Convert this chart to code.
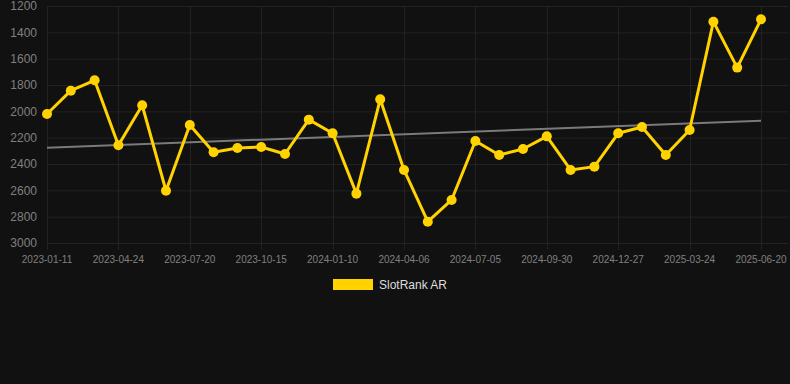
<!DOCTYPE html>
<html>
<head>
<meta charset="utf-8">
<script src="https://cdn.jsdelivr.net/npm/d3@7"></script>
<style>
  body { margin: 0; background: #111111; }
  svg { display: block; font-family: "Liberation Sans", Arial, sans-serif; }
</style>
</head>
<body>
<div id="chart"></div>
<script>
const dates = [
  "2023-01-11", "2023-02-15", "2023-03-22", "2023-04-24", "2023-05-23", "2023-06-21",
  "2023-07-20", "2023-08-18", "2023-09-16", "2023-10-15", "2023-11-13", "2023-12-12",
  "2024-01-10", "2024-02-08", "2024-03-08", "2024-04-06", "2024-05-06", "2024-06-05",
  "2024-07-05", "2024-08-03", "2024-09-01", "2024-09-30", "2024-10-29", "2024-11-28",
  "2024-12-27", "2025-01-25", "2025-02-23", "2025-03-24", "2025-04-22", "2025-05-22",
  "2025-06-20",
];
const rank = [
  2020, 1843, 1764, 2258, 1954, 2603, 2104, 2311, 2278, 2271, 2324, 2063,
  2167, 2625, 1909, 2445, 2838, 2673, 2225, 2332, 2286, 2190, 2445, 2420,
  2167, 2119, 2332, 2142, 1319, 1668, 1301,
];
const yTicks = [1200, 1400, 1600, 1800, 2000, 2200, 2400, 2600, 2800, 3000];
const seriesName = "SlotRank AR";

const width = 790;
const height = 384;
const margin = { top: 6, right: 29, bottom: 141, left: 47 };

const svg = d3
  .select("#chart")
  .append("svg")
  .attr("width", width)
  .attr("height", height);

const x = d3
  .scalePoint()
  .domain(dates)
  .range([margin.left, width - margin.right]);

const y = d3
  .scaleLinear()
  .domain([1200, 3000])
  .range([margin.top, height - margin.bottom]);

// horizontal grid + y labels
svg
  .append("g")
  .selectAll("line")
  .data(yTicks)
  .join("line")
  .attr("x1", margin.left)
  .attr("x2", 788)
  .attr("y1", (d) => y(d) + 0.5)
  .attr("y2", (d) => y(d) + 0.5)
  .attr("stroke", "#222222")
  .attr("stroke-width", 1);

svg
  .append("g")
  .selectAll("text")
  .data(yTicks)
  .join("text")
  .attr("x", 37)
  .attr("y", (d) => y(d))
  .attr("dy", "0.35em")
  .attr("text-anchor", "end")
  .attr("fill", "#808080")
  .style("font-size", "12px")
  .text((d) => d);

// vertical grid on every third category
const xTicks = dates.filter((d, i) => i % 3 === 0);

svg
  .append("g")
  .selectAll("line")
  .data(xTicks)
  .join("line")
  .attr("x1", (d) => Math.round(x(d)) + 0.5)
  .attr("x2", (d) => Math.round(x(d)) + 0.5)
  .attr("y1", margin.top)
  .attr("y2", y(3000) + 7)
  .attr("stroke", "#222222")
  .attr("stroke-width", 1);

svg
  .append("g")
  .selectAll("text")
  .data(xTicks)
  .join("text")
  .attr("x", (d) => x(d))
  .attr("y", 259)
  .attr("dy", "0.35em")
  .attr("text-anchor", "middle")
  .attr("fill", "#808080")
  .style("font-size", "10px")
  .text((d) => d);

// least squares trend line
const n = rank.length;
const meanI = d3.mean(rank, (d, i) => i);
const meanV = d3.mean(rank);
const slope =
  d3.sum(rank, (d, i) => (i - meanI) * (d - meanV)) /
  d3.sum(rank, (d, i) => (i - meanI) * (i - meanI));
const intercept = meanV - slope * meanI;

svg
  .append("line")
  .attr("x1", x(dates[0]))
  .attr("x2", x(dates[n - 1]))
  .attr("y1", y(intercept))
  .attr("y2", y(intercept + slope * (n - 1)))
  .attr("stroke", "#7a7a7a")
  .attr("stroke-width", 2);

// series line
const line = d3
  .line()
  .x((d, i) => x(dates[i]))
  .y((d) => y(d));

svg
  .append("path")
  .datum(rank)
  .attr("fill", "none")
  .attr("stroke", "#FFD200")
  .attr("stroke-width", 3)
  .attr("stroke-linejoin", "round")
  .attr("d", line);

svg
  .append("g")
  .selectAll("circle")
  .data(rank)
  .join("circle")
  .attr("cx", (d, i) => x(dates[i]))
  .attr("cy", (d) => y(d))
  .attr("r", 5)
  .attr("fill", "#FFD200");

// legend
const legend = svg.append("g").attr("transform", "translate(333, 279)");

legend
  .append("rect")
  .attr("width", 40)
  .attr("height", 11)
  .attr("fill", "#FFD200");

legend
  .append("text")
  .attr("x", 46)
  .attr("y", 5.5)
  .attr("dy", "0.35em")
  .attr("fill", "#dddddd")
  .style("font-size", "12px")
  .text(seriesName);
</script>
</body>
</html>
